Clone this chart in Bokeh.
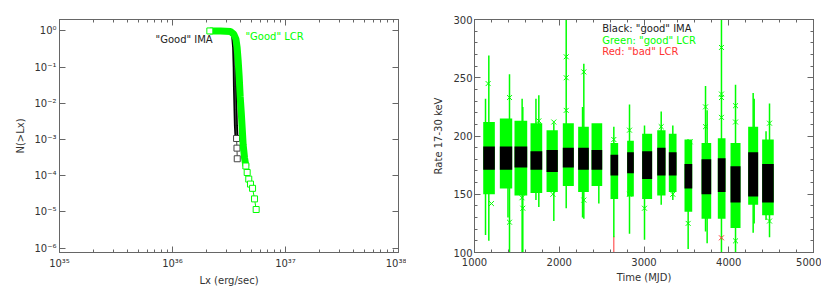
from bokeh.plotting import figure
from bokeh.layouts import row
from bokeh.models import (FixedTicker, LinearAxis, CustomJSTickFormatter,
                          SingleIntervalTicker)
from bokeh.embed import file_html
from bokeh.resources import INLINE

# ---------------- Left panel: cumulative luminosity distribution ----------------
ima_lx = [2.32e36, 3.26e36, 3.44e36, 3.51e36, 3.55e36, 3.57e36, 3.61e36, 3.64e36,
          3.69e36, 3.72e36, 3.74e36]
ima_n = [1.0, 0.955, 0.733, 0.355, 0.102, 0.0295, 0.0069, 0.00245, 0.00107,
         0.00058, 0.000295]
ima_dense = 9

lcr_lx = [2.14e36, 2.66e36, 3.26e36, 3.49e36, 3.64e36, 3.73e36, 3.81e36, 3.89e36,
          3.97e36, 4.06e36, 4.14e36, 4.22e36, 4.34e36, 4.46e36, 4.58e36, 4.73e36,
          4.90e36, 5.11e36, 5.32e36, 5.50e36]
lcr_n = [1.0, 1.0, 0.96, 0.81, 0.596, 0.355, 0.155, 0.055, 0.0158, 0.0056, 0.002,
         0.00071, 0.00031, 0.000186, 0.000123, 8.1e-5, 5.9e-5, 4.5e-5, 2.3e-5, 1.17e-5]
lcr_dense = 14

lx_ticks = [1e35, 1e36, 1e37, 1e38]
lx_labels = ["10³⁵", "10³⁶", "10³⁷", "10³⁸"]
n_ticks = [1e-6, 1e-5, 1e-4, 1e-3, 1e-2, 1e-1, 1e0]
n_labels = ["10⁻⁶", "10⁻⁵", "10⁻⁴", "10⁻³", "10⁻²", "10⁻¹", "10⁰"]

# ---------------- Right panel: rate light curve ----------------
cl_start = [1103, 1299, 1472, 1661, 1850, 2042, 2223, 2381, 2605, 2801, 2978, 3156,
            3293, 3478, 3679, 3871, 4021, 4229, 4394]
cl_end = [1240, 1445, 1622, 1799, 1983, 2172, 2349, 2507, 2695, 2880, 3096, 3254,
          3384, 3569, 3793, 3962, 4139, 4347, 4531]
lcr_lo = [150, 155, 149, 151, 152, 157, 152, 157, 146, 148, 146, 149, 152, 135, 129,
          129, 121, 141, 132]
lcr_hi = [212, 215, 213, 211, 205, 211, 208, 211, 194, 196, 202, 205, 202, 197, 194,
          198, 194, 208, 197]
ima_lo = [171, 171, 173, 171, 169, 173, 171, 171, 166, 168, 163, 166, 166, 155, 150,
          152, 143, 148, 143]
ima_hi = [191, 191, 191, 187, 188, 190, 190, 188, 184, 186, 187, 190, 186, 176, 180,
          181, 174, 186, 176]

err_t = [1169, 1413, 1570, 1759, 1936, 2082, 2290, 2467, 2644, 2829, 3006, 3203,
         3340, 3521, 3726, 3914, 4080, 4288, 4481,
         1130, 1395, 1562, 1725, 2275, 3745, 4300, 4440]
err_lo = [110, 100, 100, 139, 127, 138, 129, 142, 113, 116, 111, 141, 145, 103, 118,
          100, 100, 117, 113,
          115, 130, 100, 145, 130, 108, 125, 128]
err_hi = [269, 253, 225, 235, 211, 300, 262, 207, 208, 227, 209, 221, 209, 197, 243,
          300, 244, 237, 228,
          232, 210, 232, 232, 225, 222, 232, 204]

out_t = [1161, 1200, 1413, 1413, 1570, 1560, 1759, 1936, 1925, 2082, 2082, 2082,
         2082, 2290, 2290, 2644, 2644, 2829, 2829, 3006, 3203, 3340, 3521, 3545,
         3726, 3726, 3914, 3914, 3914, 3914, 3914, 4080, 4080, 4080, 4288, 4481, 4481]
out_rate = [245, 142, 233, 126, 138, 147, 213, 212, 150, 268, 250, 222, 207, 255,
            145, 197, 148, 205, 150, 138, 208, 150, 125, 195, 208, 225, 276, 236,
            233, 216, 135, 226, 212, 110, 205, 211, 127]

bad_t = [2644, 3914]
bad_rate = [87, 112.6]
bad_err = [27, 30]

FONT = "DejaVu Sans"
TXT = "#333333"
FRAME = "#666666"
GREEN = "#00ff00"


def style_axis(ax, major_in=6, minor_in=3, labels=True):
    ax.axis_line_color = FRAME
    ax.major_tick_line_color = FRAME
    ax.minor_tick_line_color = FRAME
    ax.major_tick_in = major_in
    ax.major_tick_out = 0
    ax.minor_tick_in = minor_in
    ax.minor_tick_out = 0
    ax.major_label_text_font = FONT
    ax.major_label_text_font_size = "10px"
    ax.major_label_text_color = TXT
    ax.axis_label_text_font = FONT
    ax.axis_label_text_font_size = "10px"
    ax.axis_label_text_color = TXT
    ax.axis_label_text_font_style = "normal"
    if not labels:
        ax.formatter = CustomJSTickFormatter(code="return ''")
        ax.major_label_standoff = 0


def label_formatter(vals, labels):
    return CustomJSTickFormatter(args=dict(tvals=vals, tlabels=labels), code="""
        let best = 0, bd = 1e9;
        for (let i = 0; i < tvals.length; i++) {
            const d = Math.abs(Math.log10(tvals[i]) - Math.log10(tick));
            if (d < bd) { bd = d; best = i; }
        }
        return tlabels[best];
    """)


# ---------------- Left figure ----------------
p1 = figure(x_axis_type="log", y_axis_type="log",
            x_range=(1e35, 1e38), y_range=(7.6e-7, 2.07),
            width=406, height=288,
            min_border_left=59, min_border_right=8, min_border_top=19,
            min_border_bottom=31,
            output_backend="svg", toolbar_location=None)
p1.grid.visible = False
p1.outline_line_color = FRAME

x_minor = [float(m) * 10.0 ** d for d in range(35, 38) for m in range(2, 10)]
xt = FixedTicker(ticks=lx_ticks, minor_ticks=x_minor)
yt = FixedTicker(ticks=n_ticks, minor_ticks=[])

p1.xaxis.ticker = xt
p1.yaxis.ticker = yt
p1.xaxis.formatter = label_formatter(lx_ticks, lx_labels)
p1.yaxis.formatter = label_formatter(n_ticks, n_labels)
p1.xaxis.axis_label = "Lx (erg/sec)"
p1.yaxis.axis_label = "N(>Lx)"
for ax in p1.xaxis + p1.yaxis:
    style_axis(ax)
p1.xaxis.major_label_standoff = 5
p1.xaxis.axis_label_standoff = 3
p1.yaxis.major_label_standoff = 3
p1.yaxis.axis_label_standoff = 5

top1 = LinearAxis(ticker=xt)
style_axis(top1, labels=False)
p1.add_layout(top1, "above")
right1 = LinearAxis(ticker=yt)
style_axis(right1, labels=False)
p1.add_layout(right1, "right")

# IMA (black)
p1.line(ima_lx[:ima_dense], ima_n[:ima_dense], line_color="black", line_width=4)
p1.line(ima_lx, ima_n, line_color="#444444", line_width=1)
p1.scatter(ima_lx[ima_dense - 1:], ima_n[ima_dense - 1:], marker="square", size=6,
           fill_color="white", line_color="#444444", line_width=1)
# LCR (green)
p1.line(lcr_lx[:lcr_dense], lcr_n[:lcr_dense], line_color=GREEN, line_width=7)
p1.line(lcr_lx, lcr_n, line_color=GREEN, line_width=1)
p1.scatter(lcr_lx[lcr_dense - 1:], lcr_n[lcr_dense - 1:], marker="square", size=6,
           fill_color="white", line_color=GREEN, line_width=1)
p1.scatter(lcr_lx[:1], lcr_n[:1], marker="square", size=6,
           fill_color="white", line_color=GREEN, line_width=1)

p1.text(x=[10 ** 35.85], y=[10 ** -0.224], text=['"Good" IMA'],
        text_font={"value": FONT}, text_font_size="10px", text_color="#222222",
        text_baseline="middle", text_align="left")
p1.text(x=[10 ** 36.646], y=[10 ** -0.162], text=['"Good" LCR'],
        text_font={"value": FONT}, text_font_size="10px", text_color=GREEN,
        text_baseline="middle", text_align="left")

# ---------------- Right figure ----------------
p2 = figure(x_range=(1000, 5000), y_range=(100, 300),
            width=415, height=288,
            min_border_left=68, min_border_right=8, min_border_top=19,
            min_border_bottom=31,
            output_backend="svg", toolbar_location=None)
p2.grid.visible = False
p2.outline_line_color = FRAME
xt2 = SingleIntervalTicker(interval=1000, num_minor_ticks=5)
yt2 = SingleIntervalTicker(interval=50, num_minor_ticks=5)
p2.xaxis.ticker = xt2
p2.yaxis.ticker = yt2
p2.xaxis.axis_label = "Time (MJD)"
p2.yaxis.axis_label = "Rate 17-30 keV"
for ax in p2.xaxis + p2.yaxis:
    style_axis(ax)
p2.xaxis.major_label_standoff = 5
p2.xaxis.axis_label_standoff = 3
p2.yaxis.major_label_standoff = 2
p2.yaxis.axis_label_standoff = 6
top2 = LinearAxis(ticker=xt2)
style_axis(top2, labels=False)
p2.add_layout(top2, "above")
right2 = LinearAxis(ticker=yt2)
style_axis(right2, labels=False)
p2.add_layout(right2, "right")

bad_lo = [r - e for r, e in zip(bad_rate, bad_err)]
bad_hi = [r + e for r, e in zip(bad_rate, bad_err)]
p2.segment(x0=bad_t, y0=bad_lo, x1=bad_t, y1=bad_hi, line_color="#ff3333",
           line_width=1)
p2.quad(left=cl_start, right=cl_end, bottom=lcr_lo, top=lcr_hi,
        fill_color=GREEN, line_color=None)
p2.segment(x0=err_t, y0=err_lo, x1=err_t, y1=err_hi, line_color=GREEN,
           line_width=1.5)
p2.scatter(out_t, out_rate, marker="x", size=7, line_color=GREEN, line_width=1)
p2.quad(left=cl_start, right=cl_end, bottom=ima_lo, top=ima_hi,
        fill_color="black", line_color=None)
p2.scatter(bad_t, bad_rate, marker="x", size=7, line_color="#ff3333", line_width=1)

p2.text(x=[2507, 2507, 2507], y=[292.4, 282.0, 272.3],
        text=['Black: "good" IMA', 'Green: "good" LCR', 'Red: "bad" LCR'],
        text_color=["#222222", GREEN, "#ff3333"],
        text_font={"value": FONT}, text_font_size="10px",
        text_baseline="middle", text_align="left")

layout = row(p1, p2)
open("out.html", "w").write(file_html(layout, INLINE))
